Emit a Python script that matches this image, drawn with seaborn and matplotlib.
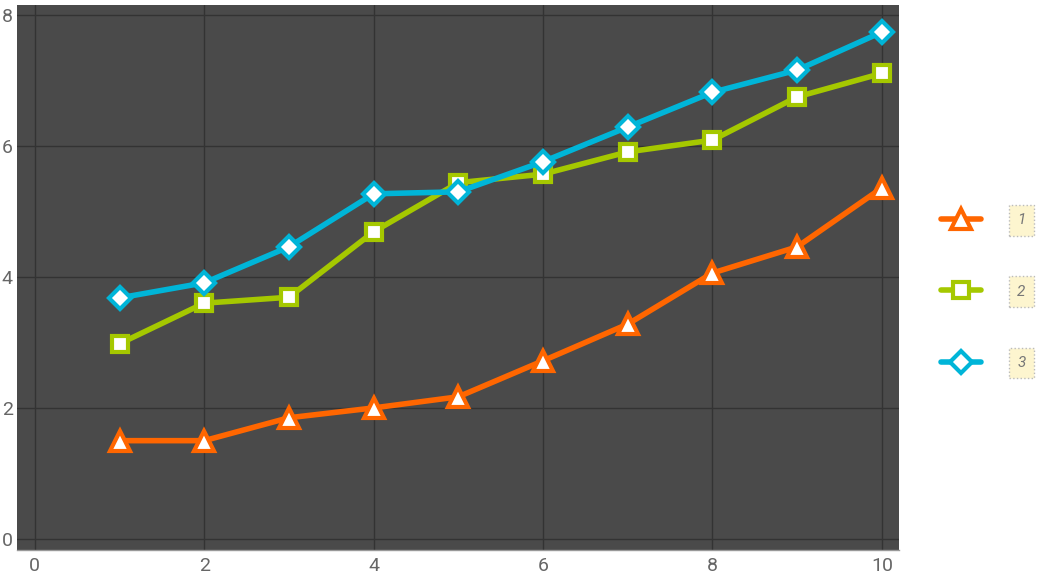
import pandas as pd
import matplotlib.pyplot as plt
import seaborn as sns

x = [1, 2, 3, 4, 5, 6, 7, 8, 9, 10]
serie_1 = [1.50, 1.50, 1.85, 2.00, 2.17, 2.72, 3.28, 4.06, 4.46, 5.36]
serie_2 = [2.98, 3.60, 3.69, 4.69, 5.44, 5.57, 5.91, 6.09, 6.75, 7.11]
serie_3 = [3.68, 3.91, 4.46, 5.27, 5.30, 5.76, 6.29, 6.82, 7.16, 7.74]
nomes = ['1', '2', '3']
cores = ['#ff6600', '#a5c800', '#00b5d8']
marcadores = ['^', 's', 'D']
tamanhos = [14, 11, 11]

sns.set_style('dark')
plt.rcParams['font.family'] = ['Roboto', 'DejaVu Sans']

fig = plt.figure(figsize=(10.5, 5.8), dpi=100)
ax = fig.add_axes([0.0162, 0.0517, 0.8398, 0.9393])
ax.set_facecolor('#4a4a4a')

for nome, y, cor, m, ms in zip(nomes, [serie_1, serie_2, serie_3], cores, marcadores, tamanhos):
    df = pd.DataFrame({'x': x, 'y': y})
    sns.lineplot(data=df, x='x', y='y', ax=ax, color=cor, lw=4, marker=m, ms=ms,
                 mfc='white', mec=cor, mew=3, label=nome, zorder=3)

ax.set_xlim(-0.21, 10.2)
ax.set_ylim(-0.17, 8.15)
ax.set_xticks([0, 2, 4, 6, 8, 10])
ax.set_yticks([0, 2, 4, 6, 8])
ax.grid(True, color='#333333', lw=1)
ax.set_xlabel('')
ax.set_ylabel('')
ax.tick_params(axis='both', length=0, labelsize=14, labelcolor='#666666')
ax.tick_params(axis='y', pad=3)
ax.tick_params(axis='x', pad=5)
for lado in ['top', 'right', 'left']:
    ax.spines[lado].set_visible(False)
ax.spines['bottom'].set_color('#999999')
ax.spines['bottom'].set_linewidth(1)

handles, labels = ax.get_legend_handles_labels()
ax.get_legend().remove()
leg = fig.legend(handles, labels, loc='center left', bbox_to_anchor=(0.883, 0.497),
                 frameon=False, fontsize=11, labelspacing=3.75, handlelength=2.6,
                 handletextpad=2.4)
for t in leg.get_texts():
    t.set_color('#777777')
    t.set_fontstyle('italic')
    t.set_bbox(dict(boxstyle='square,pad=0.55', fc='#fdf5cf', ec='#bbbbbb', ls=':', lw=1))

fig.savefig('out.png', dpi=100)
